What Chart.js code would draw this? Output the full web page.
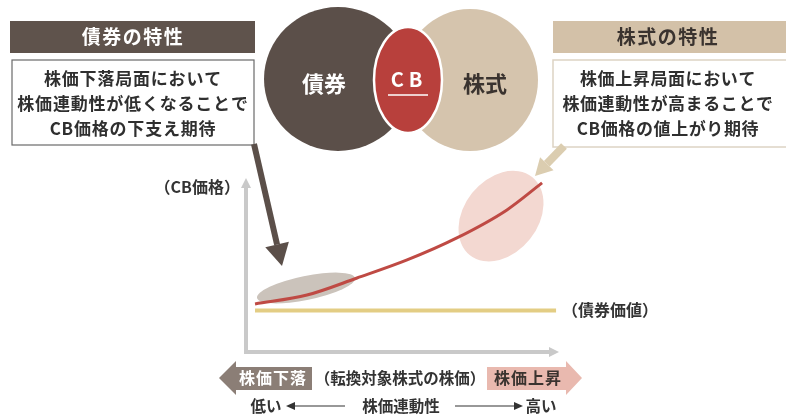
<!DOCTYPE html>
<html>
<head>
<meta charset="utf-8">
<script src="https://cdn.jsdelivr.net/npm/chart.js@4"></script>
<style>
  html, body { margin: 0; padding: 0; background: #fff; }
  #wrap { width: 786px; height: 416px; }
</style>
</head>
<body>
<div id="wrap"><canvas id="cbChart" width="786" height="416"></canvas></div>
<script>
// stock price (x, 0-100) vs CB price (y, 0-100)
const stockPrice = [2.9, 19.6, 35.7, 51.8, 67.8, 83.9, 95.2];
const cbPrice = [27.9, 33.1, 43.0, 53.5, 66.3, 82.6, 98.3];
const bondValueX = [2.9, 99.7];
const bondValueY = [24.1, 24.1];
// highlighted zones on the curve: [x, y]
const lowZone = [19.3, 37.2];
const highZone = [82, 79];

const FONT = '"Noto Sans CJK JP", "Noto Sans", sans-serif';

function ellipse(ctx, cx, cy, rx, ry, rot, fill, stroke, lw) {
  ctx.save();
  ctx.beginPath();
  ctx.ellipse(cx, cy, rx, ry, rot, 0, Math.PI * 2);
  ctx.fillStyle = fill;
  ctx.fill();
  if (stroke) { ctx.lineWidth = lw; ctx.strokeStyle = stroke; ctx.stroke(); }
  ctx.restore();
}

function text(ctx, str, x, y, size, color, align, spacing) {
  ctx.save();
  ctx.font = 'bold ' + size + 'px ' + FONT;
  ctx.fillStyle = color;
  ctx.textAlign = align || 'center';
  ctx.textBaseline = 'middle';
  if (spacing) ctx.letterSpacing = spacing + 'px';
  ctx.fillText(str, x, y);
  ctx.restore();
}

function arrow(ctx, x1, y1, x2, y2, w, head, color) {
  const a = Math.atan2(y2 - y1, x2 - x1);
  const bx = x2 - head * Math.cos(a), by = y2 - head * Math.sin(a);
  ctx.save();
  ctx.strokeStyle = color; ctx.fillStyle = color; ctx.lineWidth = w;
  ctx.beginPath(); ctx.moveTo(x1, y1); ctx.lineTo(bx, by); ctx.stroke();
  ctx.beginPath();
  ctx.moveTo(x2, y2);
  ctx.lineTo(bx + head * 0.55 * Math.sin(a), by - head * 0.55 * Math.cos(a));
  ctx.lineTo(bx - head * 0.55 * Math.sin(a), by + head * 0.55 * Math.cos(a));
  ctx.closePath(); ctx.fill();
  ctx.restore();
}

// highlighted zones under the curve
const zonesPlugin = {
  id: 'zones',
  beforeDatasetsDraw(chart) {
    const ctx = chart.ctx, xs = chart.scales.x, ys = chart.scales.y;
    ellipse(ctx, xs.getPixelForValue(lowZone[0]), ys.getPixelForValue(lowZone[1]), 50, 12, -0.2, '#cbc3bb');
    ellipse(ctx, xs.getPixelForValue(highZone[0]), ys.getPixelForValue(highZone[1]), 50, 37, -0.9, '#f3d8d1');
  }
};

// everything around the plot
const decorPlugin = {
  id: 'decor',
  beforeDraw(chart) {
    const ctx = chart.ctx;
    ctx.save();
    ctx.fillStyle = '#fff';
    ctx.fillRect(0, 0, chart.width, chart.height);
    ctx.restore();
  },
  afterDraw(chart) {
    const ctx = chart.ctx;
    const a = chart.chartArea;

    // axes
    ctx.save();
    ctx.strokeStyle = '#c9c9c9'; ctx.lineWidth = 4; ctx.lineCap = 'butt';
    ctx.beginPath();
    ctx.moveTo(a.left, a.top + 6); ctx.lineTo(a.left, a.bottom); ctx.lineTo(a.right - 6, a.bottom);
    ctx.stroke();
    ctx.fillStyle = '#c9c9c9';
    ctx.beginPath(); ctx.moveTo(a.left, a.top - 2); ctx.lineTo(a.left - 5, a.top + 8); ctx.lineTo(a.left + 5, a.top + 8); ctx.closePath(); ctx.fill();
    ctx.beginPath(); ctx.moveTo(a.right + 2, a.bottom); ctx.lineTo(a.right - 8, a.bottom - 5); ctx.lineTo(a.right - 8, a.bottom + 5); ctx.closePath(); ctx.fill();
    ctx.restore();

    text(ctx, '（CB価格）', 240, 187, 16, '#333', 'right');
    text(ctx, '（債券価値）', 562, 310, 16, '#333', 'left');

    // Venn
    ellipse(ctx, 338, 79, 74, 72, 0, '#5b4f49');
    ellipse(ctx, 470, 80, 68, 71, 0, '#d5c4ad');
    ellipse(ctx, 408, 80, 34, 53, 0, '#b8403c', '#fff', 2.5);
    text(ctx, '債券', 324, 84, 22, '#fff');
    text(ctx, '株式', 485, 84, 22, '#3a332f');
    text(ctx, 'CB', 409, 79, 20, '#fff', 'center', 5);
    ctx.save(); ctx.strokeStyle = '#fff'; ctx.lineWidth = 1.5;
    ctx.beginPath(); ctx.moveTo(388, 95); ctx.lineTo(428, 95); ctx.stroke(); ctx.restore();

    // left box
    ctx.save();
    ctx.fillStyle = '#5f534c'; ctx.fillRect(10, 21, 245, 32);
    ctx.fillStyle = '#fff'; ctx.fillRect(12, 60, 242, 85);
    ctx.strokeStyle = '#6a6a6a'; ctx.lineWidth = 1.2; ctx.strokeRect(12, 60, 242, 85);
    ctx.restore();
    text(ctx, '債券の特性', 133, 37, 19, '#fff', 'center', 1.5);
    text(ctx, '株価下落局面において', 133, 79, 17, '#2f2f2f', 'center', 0.8);
    text(ctx, '株価連動性が低くなることで', 133, 104, 17, '#2f2f2f', 'center', 0.8);
    text(ctx, 'CB価格の下支え期待', 133, 129, 17, '#2f2f2f', 'center', 0.8);

    // right box
    ctx.save();
    ctx.fillStyle = '#d3c1a8'; ctx.fillRect(553, 21, 233, 32);
    ctx.fillStyle = '#fff'; ctx.fillRect(553, 60, 240, 87);
    ctx.strokeStyle = '#ddd3c4'; ctx.lineWidth = 1.5; ctx.strokeRect(553, 60, 240, 87);
    ctx.restore();
    text(ctx, '株式の特性', 668, 37, 19, '#3a332f', 'center', 1.5);
    text(ctx, '株価上昇局面において', 668, 79, 17, '#2f2f2f', 'center', 0.6);
    text(ctx, '株価連動性が高まることで', 668, 104, 17, '#2f2f2f', 'center', 0.6);
    text(ctx, 'CB価格の値上がり期待', 668, 129, 17, '#2f2f2f', 'center', 0.6);

    // pointer arrows
    arrow(ctx, 254, 144, 282, 266, 6, 22, '#5b4f49');
    arrow(ctx, 564, 146, 535, 176, 8, 17, '#dbcdb0');

    // bottom band
    ctx.save();
    ctx.fillStyle = '#8b7e76';
    ctx.beginPath();
    ctx.moveTo(219, 378); ctx.lineTo(236, 361); ctx.lineTo(236, 367); ctx.lineTo(312, 367);
    ctx.lineTo(312, 390); ctx.lineTo(236, 390); ctx.lineTo(236, 395); ctx.closePath(); ctx.fill();
    ctx.fillStyle = '#e9b9af';
    ctx.beginPath();
    ctx.moveTo(582, 378); ctx.lineTo(566, 361); ctx.lineTo(566, 367); ctx.lineTo(487, 367);
    ctx.lineTo(487, 390); ctx.lineTo(566, 390); ctx.lineTo(566, 395); ctx.closePath(); ctx.fill();
    ctx.restore();
    text(ctx, '株価下落', 273, 378, 16, '#fff', 'center', 1);
    text(ctx, '（転換対象株式の株価）', 400, 378, 15.5, '#333');
    text(ctx, '株価上昇', 528, 378, 16, '#3a332f', 'center', 1);

    text(ctx, '低い', 266, 406, 15.5, '#333');
    text(ctx, '株価連動性', 401, 406, 15.5, '#333');
    text(ctx, '高い', 541, 406, 15.5, '#333');
    ctx.save();
    ctx.strokeStyle = '#333'; ctx.fillStyle = '#333'; ctx.lineWidth = 1.2;
    ctx.beginPath(); ctx.moveTo(290, 406); ctx.lineTo(345, 406); ctx.moveTo(455, 406); ctx.lineTo(518, 406); ctx.stroke();
    ctx.beginPath(); ctx.moveTo(286, 406); ctx.lineTo(295, 402); ctx.lineTo(295, 410); ctx.closePath(); ctx.fill();
    ctx.beginPath(); ctx.moveTo(523, 406); ctx.lineTo(514, 402); ctx.lineTo(514, 410); ctx.closePath(); ctx.fill();
    ctx.restore();
  }
};

new Chart(document.getElementById('cbChart').getContext('2d'), {
  type: 'scatter',
  data: {
    datasets: [
      {
        label: '債券価値',
        data: bondValueX.map((x, i) => ({ x: x, y: bondValueY[i] })),
        showLine: true,
        borderColor: '#e3cd84',
        borderWidth: 4,
        pointRadius: 0,
      },
      {
        label: 'CB価格',
        data: stockPrice.map((x, i) => ({ x: x, y: cbPrice[i] })),
        showLine: true,
        borderColor: '#bf4a44',
        borderWidth: 3,
        cubicInterpolationMode: 'monotone',
        pointRadius: 0,
      },
    ],
  },
  options: {
    responsive: false,
    animation: false,
    layout: { padding: { left: 246, right: 229, top: 180, bottom: 64 } },
    plugins: { legend: { display: false }, tooltip: { enabled: false } },
    scales: {
      x: { type: 'linear', min: 0, max: 100, display: false },
      y: { type: 'linear', min: 0, max: 100, display: false },
    },
  },
  plugins: [decorPlugin, zonesPlugin],
});
</script>
</body>
</html>
